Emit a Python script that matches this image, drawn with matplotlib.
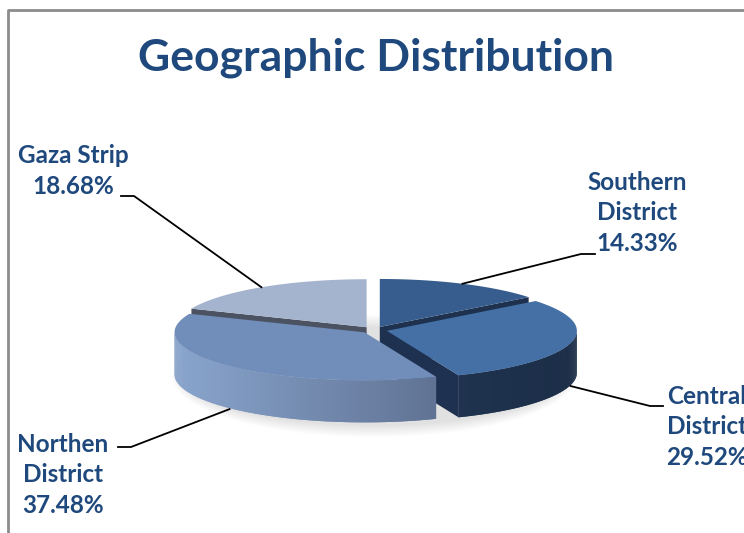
import numpy as np
import matplotlib
matplotlib.use("Agg")
import matplotlib.pyplot as plt
from matplotlib.patches import Polygon, Ellipse

# data
regions = ["Southern\nDistrict", "Central\nDistrict", "Northen\nDistrict", "Gaza Strip"]
shares = [14.33, 29.52, 37.48, 18.68]

top_colors = ["#375D8E", "#4570A5", "#718EBA", "#A5B4CE"]
side_left = ["#2A4670", "#26405F", "#88A3CB", "#5A6678"]
side_right = ["#1A2E4A", "#1C2E48", "#4B5A78", "#4A5464"]
cut_colors = ["#1E324F", "#1E3150", "#4B5A78", "#4B5363"]

text_color = "#1F497D"
font = "Lato"

# geometry of the pie in pixel space (y grows downwards)
cx, cy = 374, 330
rx, ry = 190, 48
depth = 42
explode = 0.07

# label layout: text centre, elbow of leader, end of leader
label_pos = [(637, 213), (707, 427), (63, 475), (73, 171)]
elbows = [((581, 254), (595, 254)), ((650, 406), (663, 406)),
          ((131, 447), (118, 447)), ((134, 196), (121, 196))]

fig = plt.figure(figsize=(7.44, 5.33), dpi=100)
ax = fig.add_axes([0, 0, 1, 1])
ax.set_xlim(0, 744)
ax.set_ylim(533, 0)
ax.axis("off")

# chart frame
ax.plot([8, 8, 760], [560, 10, 10], color="#8C8C8C", lw=2, solid_capstyle="butt")

# soft shadow under the pie
for k in range(10):
    ax.add_patch(Ellipse((cx, cy + depth + 4), 2 * rx + 24 - k * 2.5, 2 * ry + 26 - k * 2.5,
                         facecolor="#000000", alpha=0.012, lw=0, zorder=1))


def rim(a, ox, oy):
    t = np.radians(a)
    return ox + rx * np.cos(t), oy - ry * np.sin(t)


def mix(c1, c2, f):
    a = np.array(matplotlib.colors.to_rgb(c1))
    b = np.array(matplotlib.colors.to_rgb(c2))
    return tuple(a + (b - a) * f)


total = sum(shares)
starts = 90 - np.cumsum([0] + shares[:-1]) / total * 360
ends = starts - np.array(shares) / total * 360

slices = []
for i in range(len(shares)):
    a0, a1 = starts[i], ends[i]
    mid = np.radians((a0 + a1) / 2)
    ox = cx + explode * rx * np.cos(mid)
    oy = cy - explode * ry * np.sin(mid)
    slices.append((a0, a1, ox, oy))

# cut faces
for i, (a0, a1, ox, oy) in enumerate(slices):
    for edge, normal in [(a0, a0 + 90), (a1, a1 - 90)]:
        if np.sin(np.radians(normal)) < -1e-6:
            px, py = rim(edge, ox, oy)
            ax.add_patch(Polygon([(ox, oy), (px, py), (px, py + depth), (ox, oy + depth)],
                                 closed=True, facecolor=cut_colors[i], lw=0, zorder=2))

# outer walls with horizontal shading (each strip overlaps the next one)
for i, (a0, a1, ox, oy) in enumerate(slices):
    angs = np.linspace(a0, a1, int(abs(a0 - a1) * 2) + 2)
    for j in range(len(angs) - 1):
        m = (angs[j] + angs[j + 1]) / 2
        if np.sin(np.radians(m)) >= 0:
            continue
        a_next = angs[min(j + 2, len(angs) - 1)]
        x1, y1 = rim(angs[j], ox, oy)
        x2, y2 = rim(a_next, ox, oy)
        f = ((x1 + x2) / 2 - (cx - rx)) / (2 * rx)
        col = mix(side_left[i], side_right[i], np.clip(f, 0, 1))
        ax.add_patch(Polygon([(x1, y1), (x2, y2), (x2, y2 + depth), (x1, y1 + depth)],
                             closed=True, facecolor=col, lw=0, zorder=3))

# top faces
for i, (a0, a1, ox, oy) in enumerate(slices):
    angs = np.linspace(a0, a1, 200)
    pts = [(ox, oy)] + [rim(a, ox, oy) for a in angs]
    ax.add_patch(Polygon(pts, closed=True, facecolor=top_colors[i], lw=0, zorder=4))

# labels and leader lines
for i, (a0, a1, ox, oy) in enumerate(slices):
    mid = (a0 + a1) / 2
    px, py = rim(mid, ox, oy)
    if np.sin(np.radians(mid)) < 0:
        py += depth + 1
    (ex, ey), (tx, ty) = elbows[i]
    ax.plot([px, ex, tx], [py, ey, ty], color="black", lw=1.3, zorder=5)
    txt = f"{regions[i]}\n{shares[i]:.2f}%"
    ax.text(label_pos[i][0], label_pos[i][1], txt, ha="center", va="center",
            multialignment="center", fontsize=17.5, fontweight="bold",
            color=text_color, family=font, linespacing=1.38, zorder=6)

ax.text(376, 70, "Geographic Distribution", ha="center", va="baseline",
        fontsize=32, fontweight="bold", color=text_color, family=font)

fig.savefig("out.png", dpi=100)
